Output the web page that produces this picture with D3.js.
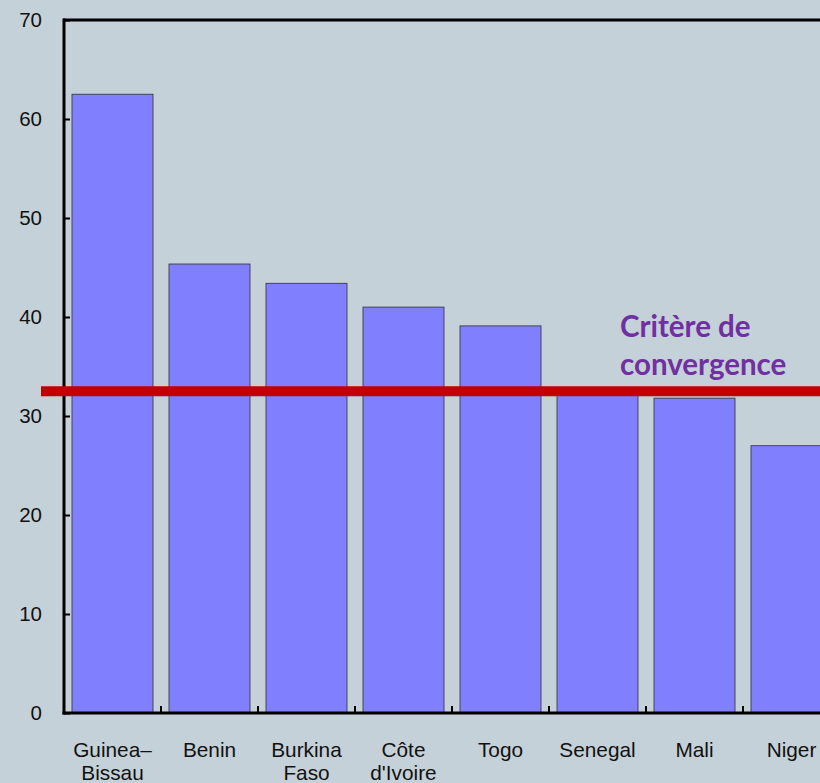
<!DOCTYPE html>
<html>
<head>
<meta charset="utf-8">
<script src="https://cdn.jsdelivr.net/npm/d3@7"></script>
<style>
  body { margin: 0; background: #c5d1d8; }
  svg { display: block; }
  text { font-family: "Liberation Sans", Arial, sans-serif; fill: #111; }
</style>
</head>
<body>
<div id="chart"></div>
<script>
// data
var countries = [["Guinea–", "Bissau"], ["Benin"], ["Burkina", "Faso"], ["Côte", "d'Ivoire"], ["Togo"], ["Senegal"], ["Mali"], ["Niger"]];
var values = [62.5, 45.35, 43.4, 41.0, 39.1, 32.6, 31.8, 27.0];
var yTicks = [0, 10, 20, 30, 40, 50, 60, 70];
var criterion = 32.5;
var criterionLabel = ["Critère de", "convergence"];

var width = 820, height = 783;
var plotLeft = 64, plotRight = 840, plotTop = 20, plotBottom = 713;

var svg = d3.select('#chart').append('svg')
  .attr('width', width)
  .attr('height', height);

var x = d3.scaleBand()
  .domain(d3.range(countries.length))
  .range([plotLeft, plotRight])
  .paddingInner(0.165)
  .paddingOuter(0.0825);

var y = d3.scaleLinear()
  .domain([0, 70])
  .range([plotBottom, plotTop]);

// bars
svg.selectAll('.bar')
  .data(values)
  .enter().append('rect')
  .attr('class', 'bar')
  .attr('x', function(d, i) { return x(i); })
  .attr('y', function(d) { return y(d); })
  .attr('width', x.bandwidth())
  .attr('height', function(d) { return y(0) - y(d); })
  .attr('fill', '#8080ff')
  .attr('stroke', '#3a3a4a')
  .attr('stroke-width', 0.9);

// frame: top line
svg.append('line')
  .attr('x1', plotLeft - 1).attr('x2', width)
  .attr('y1', plotTop).attr('y2', plotTop)
  .attr('stroke', '#000').attr('stroke-width', 3);

// y axis
var yAxis = d3.axisRight(y)
  .tickValues(yTicks)
  .tickSize(6)
  .tickFormat('');
var gy = svg.append('g')
  .attr('transform', 'translate(' + plotLeft + ',0)')
  .call(yAxis);
gy.select('.domain').remove();
gy.selectAll('.tick line').attr('stroke', '#000').attr('stroke-width', 2);

svg.append('line')
  .attr('x1', plotLeft).attr('x2', plotLeft)
  .attr('y1', plotTop - 1.5).attr('y2', plotBottom + 1.5)
  .attr('stroke', '#000').attr('stroke-width', 3);

svg.selectAll('.ylab')
  .data(yTicks)
  .enter().append('text')
  .attr('class', 'ylab')
  .attr('x', 42)
  .attr('y', function(d) { return y(d); })
  .attr('dy', '0.35em')
  .attr('text-anchor', 'end')
  .style('font-size', '20.5px')
  .text(function(d) { return d; });

// x axis: ticks between categories, pointing up
var bounds = d3.range(1, countries.length).map(function(i) { return x(i) - x.step() * x.paddingInner() / 2; });
svg.selectAll('.xtick')
  .data(bounds)
  .enter().append('line')
  .attr('class', 'xtick')
  .attr('x1', function(d) { return d; })
  .attr('x2', function(d) { return d; })
  .attr('y1', plotBottom)
  .attr('y2', plotBottom - 7)
  .attr('stroke', '#000')
  .attr('stroke-width', 2);

svg.append('line')
  .attr('x1', plotLeft - 1.5).attr('x2', width)
  .attr('y1', plotBottom).attr('y2', plotBottom)
  .attr('stroke', '#000').attr('stroke-width', 3);

var xl = svg.selectAll('.xlab')
  .data(countries)
  .enter().append('text')
  .attr('class', 'xlab')
  .attr('text-anchor', 'middle')
  .style('font-size', '20.8px');
xl.selectAll('tspan')
  .data(function(d, i) { return d.map(function(s) { return { s: s, i: i }; }); })
  .enter().append('tspan')
  .attr('x', function(d) { return x(d.i) + x.bandwidth() / 2; })
  .attr('y', function(d, j) { return 757 + j * 22.5; })
  .text(function(d) { return d.s; });

// convergence criterion
svg.append('line')
  .attr('x1', 41).attr('x2', width)
  .attr('y1', y(criterion)).attr('y2', y(criterion))
  .attr('stroke', '#c00000')
  .attr('stroke-width', 10);

svg.append('text')
  .attr('x', 620)
  .style('font-family', 'Lato, "Open Sans", sans-serif')
  .style('font-weight', 'bold')
  .style('font-size', '29.5px')
  .style('fill', '#7030a0')
  .selectAll('tspan')
  .data(criterionLabel)
  .enter().append('tspan')
  .attr('x', 620)
  .attr('y', function(d, i) { return 337 + i * 38; })
  .text(function(d) { return d; });
</script>
</body>
</html>
